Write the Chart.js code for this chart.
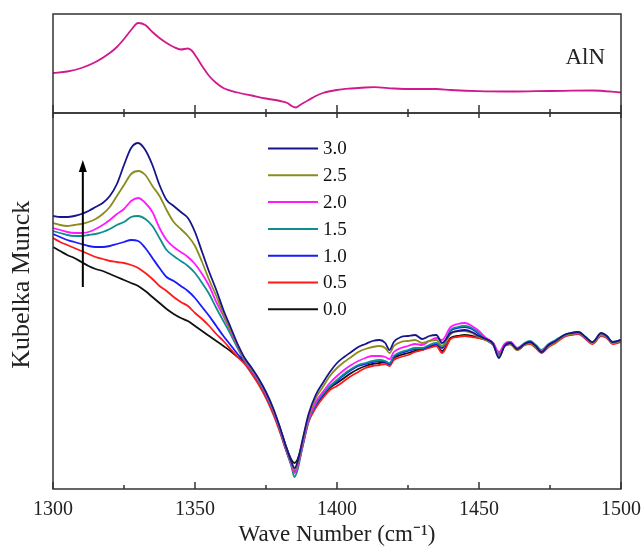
<!DOCTYPE html>
<html>
<head>
<meta charset="utf-8">
<script src="https://cdn.jsdelivr.net/npm/chart.js@4.4.1/dist/chart.umd.min.js"></script>
<style>
  body { margin: 0; background: #fff; }
  #wrap { position: relative; width: 642px; height: 549px; }
  canvas { position: absolute; left: 0; top: 0; }
</style>
</head>
<body>
<div id="wrap">
  <canvas id="mainChart" width="642" height="549"></canvas>
  <canvas id="alnChart" width="642" height="120"></canvas>
</div>
<script>
// wave numbers (cm-1) shared by the seven loading series
const waveNumbers = [1300,1302.5,1305,1307.5,1310,1312.5,1315,1317.5,1320,1322.5,1325,1327.5,1330,1332.5,1335,1337.5,1340,1342.5,1345,1347.5,1350,1352.5,1355,1357.5,1360,1362.5,1365,
  1367.5,1370,1372.5,1375,1377.5,1380,1382,1384,1385,1386,1388,1390,1392.5,1395,1397.5,
  1400,1402.5,1405,1407.5,1410,1412.5,1415,1417,1418.5,1420,1422.5,1425,1427.5,1430,1432.5,1435,1437,1440,1442.5,1445,1447.5,1450,1452.5,1455,1457,1459,1461,1463.5,1466,1468,1470,1472,1474.5,1477,1480,1482.5,1485,1487.5,1490,1493,1495,1497,1500];

// Kubelka-Munck, arbitrary units
const km30 = [273,272,272,273,275,278,282,286,293,305,324,341,346,339,324,304,289,283,277,271,257,237,217,199,179,162,145,
  131,121,110,97,81,61,43,27,21,26,51,75,94,106,117,
  126,132,137,142,145,148,149,146,139,147,152,153,154,150,153,154,146,156,158,159,157,153,150,145,131,143,146,140,145,147,143,137,144,148,154,156,157,152,147,156,153,147,149];
const km25 = [266,264,263,264,265,267,270,275,282,293,304,315,318,314,303,293,279,267,260,253,243,227,209,193,175,159,144,
  130,120,109,96,80,60,42,26,19,24,49,73,91,102,113,
  121,127,132,137,140,142,143,141,136,143,147,148,149,146,148,149,143,155,158,158,156,152,149,144,133,143,145,139,144,146,142,137,143,147,153,155,156,151,146,154,152,146,148];
const km20 = [261,259,257,256,256,257,260,264,269,275,280,288,291,286,277,261,249,242,237,232,225,215,203,187,173,158,143,
  129,119,108,95,79,59,41,24,16,21,46,70,87,97,106,
  113,119,124,128,131,133,133,132,130,137,141,143,145,144,148,151,149,162,165,166,163,158,151,146,137,145,147,141,145,147,143,138,144,148,153,155,156,151,146,154,152,146,148];
const km15 = [258,256,254,253,253,254,255,257,260,264,267,272,273,270,263,251,239,233,228,223,216,206,195,181,168,155,141,
  128,118,107,94,78,58,40,22,12,18,44,68,85,95,103,
  109,115,120,124,126,128,129,128,126,133,137,139,141,141,144,146,143,159,162,163,161,156,150,145,135,145,147,141,146,148,144,139,145,149,154,156,157,152,147,155,153,147,149];
const km10 = [255,252,249,247,245,243,242,242,243,245,247,249,248,241,231,221,212,208,203,198,191,182,173,163,153,144,135,
  128,118,107,94,78,58,40,24,18,22,45,69,84,94,102,
  108,114,119,123,125,127,128,127,125,132,136,138,140,140,143,145,141,158,161,162,160,155,149,144,134,144,146,140,145,147,143,138,144,148,153,155,156,151,146,154,152,146,148];
const km05 = [251,247,244,241,238,235,232,230,228,227,226,224,221,216,210,203,198,192,187,183,176,170,163,155,148,140,132,
  125,115,104,91,75,56,39,24,17,22,44,67,81,91,99,
  103,108,113,117,121,123,124,125,123,129,132,134,137,139,141,143,136,150,152,153,152,151,149,146,135,143,145,139,144,145,141,136,142,146,152,154,155,150,145,153,151,145,147];
const km00 = [242,238,234,231,227,223,220,218,215,212,209,206,203,198,192,186,180,175,171,168,163,158,153,148,143,138,132,
  127,118,107,94,79,60,43,29,26,29,48,70,84,93,101,
  106,111,116,120,123,125,126,127,125,131,134,136,138,139,142,144,138,151,153,154,153,151,149,145,133,143,145,139,144,146,142,137,143,147,153,155,156,151,146,154,152,146,148];

const seriesLabels = ['3.0', '2.5', '2.0', '1.5', '1.0', '0.5', '0.0'];
const seriesValues = [km30, km25, km20, km15, km10, km05, km00];
const seriesColors = ['#15158c', '#8c8c1c', '#ff1aff', '#0d8f8f', '#1a1aff', '#ff1a1a', '#111111'];

// AlN reference spectrum (top panel)
const alnWave = [1300,1305,1310,1315,1320,1322.5,1325,1327.5,1330,1332.5,1335,1337.5,1340,1342.5,1345,1347.5,1349,1350.5,1352.5,1355,1357.5,1360,1365,1370,1375,1380,1382.5,1384,1385.5,1387,1390,1392.5,1395,1400,1405,1410,1413,1420,1427.5,1435,1440,1450,1460,1470,1480,1490,1500];
const alnValues = [40,41.5,45,51,60,66,74,83,90,88,81,75,70,66,63.5,64.5,62,56,47,37,30,25,20.5,17.5,14.5,12,10,7,5.5,8,13,17,20,23,24.5,25.5,25.8,24.5,24,24,23,21.8,21.5,21.8,22.2,22.5,20.5];

const tickLabels = [1300, 1350, 1400, 1450, 1500];
const minorTicks = [1325, 1375, 1425, 1475];
const arrowAt = { x: 1310.5, from: 202, to: 329 };

const serif = 'Liberation Serif, Times New Roman, serif';

function pts(xs, ys) { return xs.map((w, i) => ({ x: w, y: ys[i] })); }

// frame box + inward ticks
function frameTicks(bottomLen, topLen) {
  return {
    id: 'frameTicks',
    afterDraw(chart) {
      const { ctx, chartArea: a, scales: { x } } = chart;
      ctx.save();
      ctx.strokeStyle = '#333';
      ctx.lineWidth = 1.5;
      ctx.strokeRect(a.left, a.top, a.right - a.left, a.bottom - a.top);
      const all = tickLabels.map(v => [v, true]).concat(minorTicks.map(v => [v, false]));
      all.forEach(([v, major]) => {
        const px = x.getPixelForValue(v);
        ctx.beginPath();
        ctx.moveTo(px, a.bottom);
        ctx.lineTo(px, a.bottom - (major ? bottomLen[0] : bottomLen[1]));
        if (topLen) {
          ctx.moveTo(px, a.top);
          ctx.lineTo(px, a.top + (major ? topLen[0] : topLen[1]));
        }
        ctx.stroke();
      });
      ctx.restore();
    }
  };
}

const legendAndArrow = {
  id: 'legendAndArrow',
  afterDraw(chart) {
    const { ctx, scales: { x, y } } = chart;
    ctx.save();
    ctx.font = '19px ' + serif;
    ctx.textBaseline = 'middle';
    ctx.fillStyle = '#111';
    chart.data.datasets.forEach((ds, i) => {
      const ly = 148.5 + i * 26.8;
      ctx.strokeStyle = ds.borderColor;
      ctx.lineWidth = 2;
      ctx.beginPath();
      ctx.moveTo(268, ly);
      ctx.lineTo(318, ly);
      ctx.stroke();
      ctx.fillText(ds.label, 323, ly + 1);
    });
    // arrow
    const ax = x.getPixelForValue(arrowAt.x);
    const y0 = y.getPixelForValue(arrowAt.from);
    const y1 = y.getPixelForValue(arrowAt.to);
    ctx.strokeStyle = '#000';
    ctx.fillStyle = '#000';
    ctx.lineWidth = 2;
    ctx.beginPath();
    ctx.moveTo(ax, y0);
    ctx.lineTo(ax, y1 + 8);
    ctx.stroke();
    ctx.beginPath();
    ctx.moveTo(ax, y1);
    ctx.lineTo(ax - 4, y1 + 12);
    ctx.lineTo(ax + 4, y1 + 12);
    ctx.closePath();
    ctx.fill();
    ctx.restore();
  }
};

new Chart(document.getElementById('mainChart'), {
  type: 'line',
  data: {
    datasets: seriesLabels.map((lab, i) => ({
      label: lab,
      data: pts(waveNumbers, seriesValues[i]),
      borderColor: seriesColors[i],
      borderWidth: 1.8,
      pointRadius: 0,
      fill: false,
      cubicInterpolationMode: 'monotone'
    }))
  },
  options: {
    responsive: false,
    animation: false,
    layout: { autoPadding: false, padding: { top: 113, right: 21, left: 0, bottom: 0 } },
    plugins: { legend: { display: false }, tooltip: { enabled: false } },
    scales: {
      x: {
        type: 'linear', min: 1300, max: 1500,
        afterBuildTicks: s => { s.ticks = tickLabels.map(v => ({ value: v })); },
        afterFit: s => { s.height = 60; s.paddingLeft = 0; s.paddingRight = 0; },
        grid: { display: false, drawTicks: false },
        border: { display: false },
        ticks: { font: { family: serif, size: 20 }, color: '#222', padding: 9, maxRotation: 0, callback: v => String(v) },
        title: { display: true, text: 'Wave Number (cm\u207B\u00B9)', font: { family: serif, size: 23 }, color: '#222', padding: { top: 0, bottom: 0 } }
      },
      y: {
        min: 0, max: 376,
        afterFit: s => { s.width = 53; s.paddingTop = 0; s.paddingBottom = 0; },
        grid: { display: false, drawTicks: false },
        border: { display: false },
        ticks: { display: false },
        title: { display: true, text: '\u00A0\u00A0\u00A0\u00A0\u00A0Kubelka Munck', font: { family: serif, size: 26 }, color: '#222', padding: { top: 7, bottom: 0 } }
      }
    }
  },
  plugins: [frameTicks([7, 4], [5, 4]), legendAndArrow]
});

const alnLabel = {
  id: 'alnLabel',
  afterDraw(chart) {
    const { ctx } = chart;
    ctx.save();
    ctx.font = '23px ' + serif;
    ctx.fillStyle = '#222';
    ctx.textAlign = 'right';
    ctx.textBaseline = 'alphabetic';
    ctx.fillText('AlN', 605, 64);
    ctx.restore();
  }
};

new Chart(document.getElementById('alnChart'), {
  type: 'line',
  data: {
    datasets: [{
      label: 'AlN',
      data: pts(alnWave, alnValues),
      borderColor: '#d0198c',
      borderWidth: 1.8,
      pointRadius: 0,
      fill: false,
      cubicInterpolationMode: 'monotone'
    }]
  },
  options: {
    responsive: false,
    animation: false,
    layout: { autoPadding: false, padding: { top: 14, right: 21, left: 53, bottom: 7 } },
    plugins: { legend: { display: false }, tooltip: { enabled: false } },
    scales: {
      x: { type: 'linear', min: 1300, max: 1500, display: false },
      y: { min: 0, max: 99, display: false }
    }
  },
  plugins: [frameTicks([8, 4], null), alnLabel]
});
</script>
</body>
</html>
